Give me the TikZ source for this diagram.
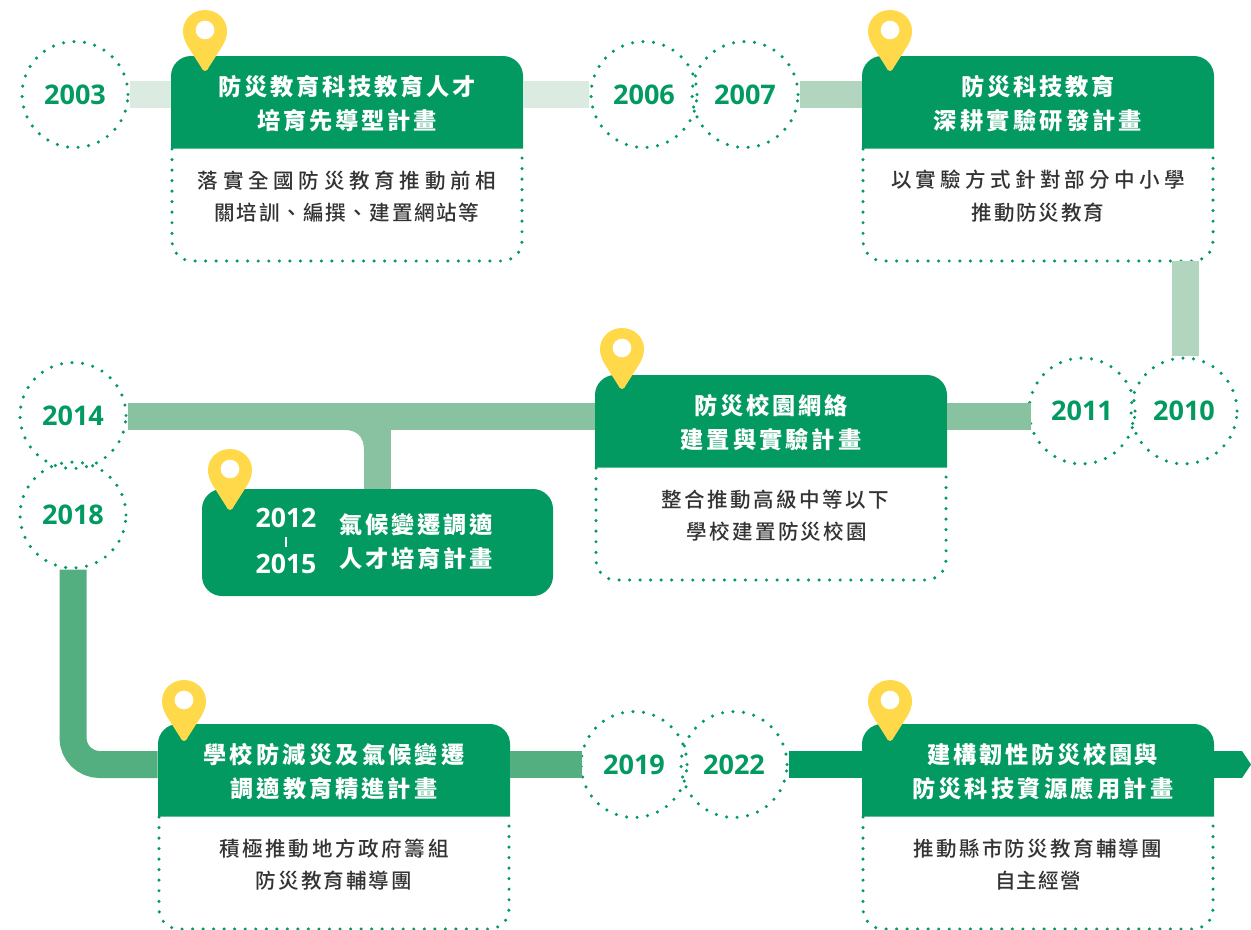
\documentclass[tikz,border=0pt]{standalone}
\usepackage{fontspec}
\setmainfont{Open Sans}
\newfontfamily\cjkh[LetterSpace=12]{Noto Sans CJK TC}
\newfontfamily\cjkf{Noto Sans CJK TC Medium}
\newcommand\ltsp[1]{\addfontfeature{LetterSpace=#1}}
\definecolor{gmain}{HTML}{039A62}
\definecolor{gone}{HTML}{DCEBE1}
\definecolor{gtwo}{HTML}{B2D5BF}
\definecolor{gthree}{HTML}{88C2A0}
\definecolor{gfour}{HTML}{53AE80}
\definecolor{pinc}{HTML}{FFD94A}
\definecolor{bodyc}{HTML}{333333}
\tikzset{
  x=0.75pt,y=-0.75pt,
  dots/.style={draw=gmain,line width=2.6pt,line cap=round,dash pattern=on 0pt off 7.9pt},
  yearc/.style={circle,dots,minimum size=79.5pt,inner sep=0pt,text=gmain,font=\fontsize{20.3}{22}\selectfont\bfseries},
  hdrbox/.style={minimum width=264pt,minimum height=69pt,inner sep=0pt},
  hdrtext/.style={inner sep=0pt,align=center,text=white,font=\cjkh\fontsize{17.4}{25.5}\selectfont\bfseries},
  bodytext/.style={inner sep=0pt,align=center,text=bodyc,font=\cjkf\fontsize{15.4}{24.5}\selectfont},
  band/.style={line width=20.25pt},
  pin/.pic={
    \fill[pinc] (0,61) .. controls (-2,61) and (-3,59) .. (-4,57) -- (-18,35)
      .. controls (-20.5,30) and (-22,26) .. (-22,21)
      .. controls (-22,9) and (-12,0) .. (0,0)
      .. controls (12,0) and (22,9) .. (22,21)
      .. controls (22,26) and (20.5,30) .. (18,35) -- (4,57)
      .. controls (3,59) and (2,61) .. (0,61) -- cycle;
    \fill[white] (0,20) circle[radius=7pt];
  }
}
% name, x, y, header text, body text
\newcommand\card[5]{%
  \begin{scope}[shift={(#2,#3)}]
    \fill[gmain,rounded corners=15pt] (0,92.5) -- (0,0) -- (352,0) -- (352,92.5);
    \draw[dots,rounded corners=15pt] (1,93) -- (1,205) -- (351,205) -- (351,93);
    \node[hdrbox] (#1) at (176,46) {};
    \node[hdrtext] (#1t) at (176,48) {#4};
    \node[bodytext] (#1b) at (176,140.5) {#5};
  \end{scope}}
\begin{document}
\begin{tikzpicture}
\useasboundingbox (0,0) rectangle (1251,929);
% cards
\card{ca}{171}{56}{防災教育科技教育人才\\培育先導型計畫}{\ltsp{23}落實全國防災教育推動前相\\\ltsp{8}關培訓、編撰、建置網站等}
\card{cb}{862}{56}{防災科技教育\\\ltsp{14}深耕實驗研發計畫}{\ltsp{21}以實驗方式針對部分中小學\\\ltsp{9}推動防災教育}
\card{cc}{595}{375}{防災校園網絡\\\ltsp{13}建置與實驗計畫}{\hspace*{6pt}\ltsp{12}整合推動高級中等以下\\\hspace*{9pt}\ltsp{11}學校建置防災校園}
\card{cd}{158}{724}{\ltsp{14}學校防減災及氣候變遷\\\ltsp{13}調適教育精進計畫}{\ltsp{13}積極推動地方政府籌組\\\ltsp{10}防災教育輔導團}
\card{ce}{862}{724}{\hspace*{7pt}建構韌性防災校園與\\\hspace*{7pt}\ltsp{14}防災科技資源應用計畫}{\ltsp{11}推動縣市防災教育輔導團\\\ltsp{6}自主經營}
% small card
\node[fill=gmain,rounded corners=15pt,minimum width=263.25pt,minimum height=80.25pt,inner sep=0pt] (cs) at (377.5,542.5) {};
\node[text=white,font=\fontsize{20}{22}\selectfont\bfseries,inner sep=0pt] (ys) at (286,518) {2012};
\node[text=white,font=\fontsize{20}{22}\selectfont\bfseries,inner sep=0pt] (ye) at (286,564) {2015};
\node[fill=white,minimum width=1.5pt,minimum height=8pt,inner sep=0pt] (yd) at (286,542) {};
\node[hdrtext] (cst) at (416,542) {氣候變遷調適\\人才培育計畫};
% year circles
\node[yearc] (y03) at (75,94.5) {2003};
\node[yearc] (y06) at (644,94.5) {2006};
\node[yearc] (y07) at (745,94.5) {2007};
\node[yearc] (y11) at (1082,411) {2011};
\node[yearc] (y10) at (1184,411) {2010};
\node[yearc] (y14) at (73,415.5) {2014};
\node[yearc] (y18) at (73,515) {2018};
\node[yearc] (y19) at (634,764.5) {2019};
\node[yearc] (y22) at (734,764.5) {2022};
% connectors
\draw[band,gone] (y03.east) -- (ca.west |- y03.east);
\draw[band,gone] (ca.east |- y06.west) -- (y06.west);
\draw[band,gtwo] (y07.east) -- (cb.west |- y07.east);
\coordinate (cbdown) at (1185.5,261);
\draw[band,gtwo] (cbdown) -- (cbdown |- y10.north);
\coordinate (ymid) at (0,416.5);
\draw[band,gthree] (cc.east |- ymid) -- ([xshift=3pt]y11.west |- ymid);
\draw[band,gthree] (y14.east |- ymid) -- (cc.west |- ymid);
\coordinate (bj) at (377.5,416.5);
\draw[band,gthree] (cs.north) -- (bj);
\fill[gthree] (345,430) .. controls (356,430) and (364,436) .. (364,450) -- (368,450) -- (368,430) -- cycle;
\draw[band,gfour,rounded corners=20pt] (y18.south) |- (cd.west |- y19.west);
\draw[band,gfour] (cd.east |- y19.west) -- ([xshift=2pt]y19.west);
\draw[band,gmain] (y22.east) -- (ce.west |- y22.east);
\coordinate (atail) at (1242,764.5);
\draw[band,gmain] (ce.east |- y22.east) -- (atail);
\coordinate (atip) at (1251,764.5);
\fill[gmain] (1242,751) -- (atip) -- (1242,778) -- cycle;
% pins
\pic at (205,10) {pin};
\pic at (890,10) {pin};
\pic at (622,328) {pin};
\pic at (230,449) {pin};
\pic at (184,680) {pin};
\pic at (890,680) {pin};
\end{tikzpicture}
\end{document}
